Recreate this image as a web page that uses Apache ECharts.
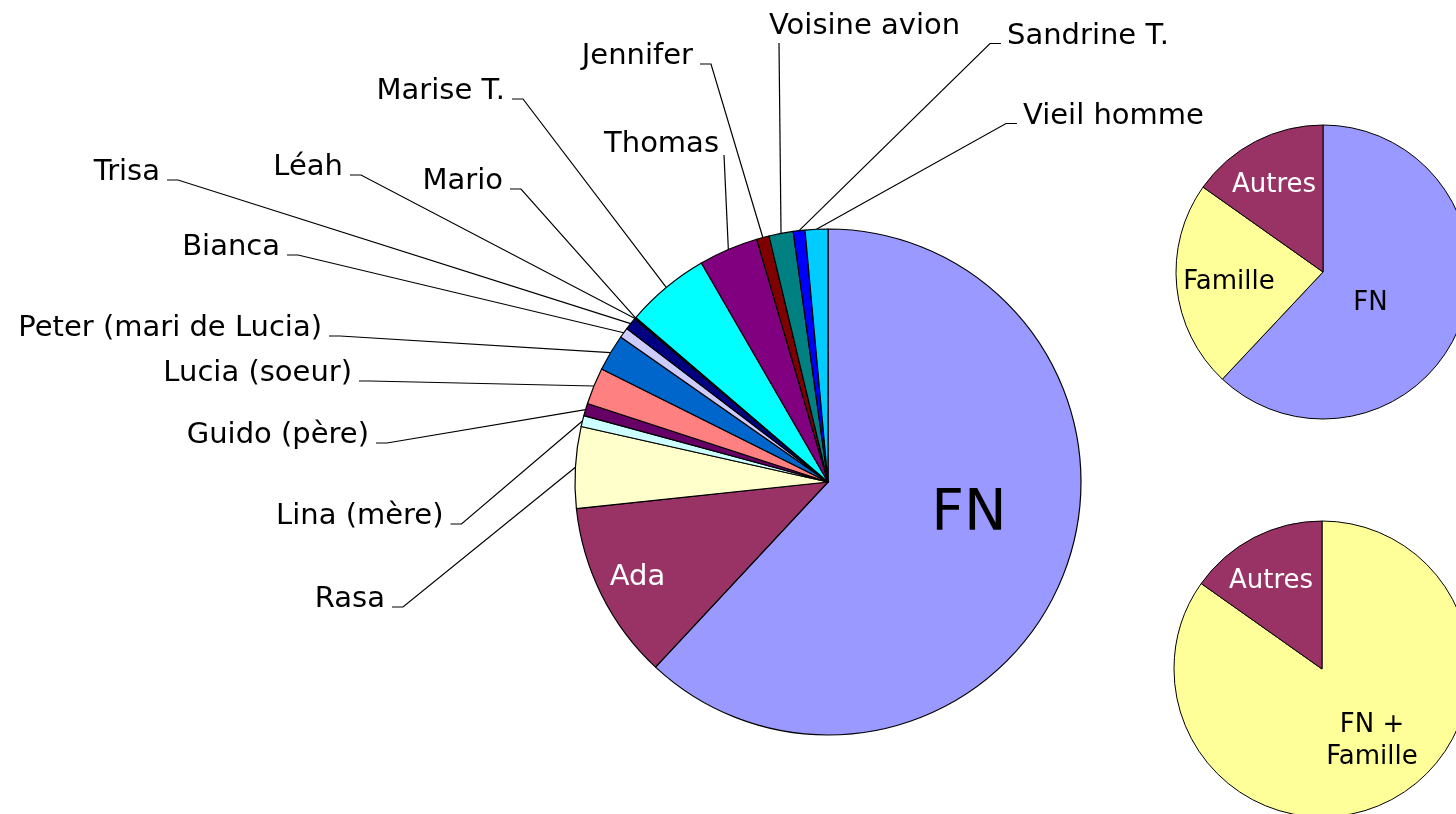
<!DOCTYPE html>
<html>
<head>
<meta charset="utf-8">
<script src="https://cdn.jsdelivr.net/npm/echarts@6/dist/echarts.min.js"></script>
<style>
  html, body { margin: 0; padding: 0; background: #fff; }
  #chart { width: 1456px; height: 814px; }
</style>
</head>
<body>
<div id="chart"></div>
<script>
// main pie, clockwise from 12 o'clock (share of time, %)
var names = ['FN', 'Ada', 'Rasa', 'Lina (mère)', 'Guido (père)', 'Lucia (soeur)',
  'Peter (mari de Lucia)', 'Bianca', 'Trisa', 'Léah', 'Mario', 'Marise T.',
  'Thomas', 'Jennifer', 'Voisine avion', 'Sandrine T.', 'Vieil homme'];
var values = [62.0, 11.4, 5.2, 0.7, 0.8, 2.35, 2.35, 0.65, 0.8, 0.05, 0.05, 5.4,
  3.8, 0.8, 1.55, 0.75, 1.45];

// small pies on the right
var groupNames = ['FN', 'Famille', 'Autres'];
var groupValues = [62.0, 22.8, 15.2];
var mergedNames = ['FN +\nFamille', 'Autres'];
var mergedValues = [84.8, 15.2];

// old excel palette
var colors = ['#9999FF', '#993366', '#FFFFCC', '#CCFFFF', '#660066', '#FF8080',
  '#0066CC', '#CCCCFF', '#000080', '#FF00FF', '#FFFF00', '#00FFFF', '#800080',
  '#800000', '#008080', '#0000FF', '#00CCFF'];

var FONT = 'DejaVu Sans';

// where each main label sits: [x, baseline, align, leader kind]
var labelSpots = [
  [969, 532, 'center'], [637.5, 586, 'center'],
  [385, 608, 'right', 'L'], [443.5, 525, 'right', 'L'], [369, 444, 'right', 'L'],
  [352, 382, 'right', 'L'], [322, 337, 'right', 'L'], [280, 256, 'right', 'L'],
  [160, 181, 'right', 'L'], [343, 176, 'right', 'L'], [503, 190, 'right', 'L'],
  [505, 100, 'right', 'L'], [719, 153, 'right', 'T'], [693, 65, 'right', 'L'],
  [769, 35, 'left', 'B'], [1007, 45, 'left', 'R'], [1023, 125, 'left', 'R']
];
// small pie labels: [x, middle]
var groupSpots = [[1370.5, 303], [1229, 282], [1274, 185]];
var mergedSpots = [[1372, 741], [1271, 581]];

function mainLayout(params) {
  var s = labelSpots[params.dataIndex];
  var size = params.dataIndex === 0 ? 57 : 29;
  var out = { x: s[0], y: s[1] - 0.3 * size, align: s[2], verticalAlign: 'middle' };
  var a = params.labelLinePoints && params.labelLinePoints[0];
  if (a && s[3]) {
    var p;
    if (s[3] === 'L') p = [[s[0] + 18, s[1] - 1], [s[0] + 7, s[1] - 1]];
    else if (s[3] === 'R') p = [[s[0] - 17, s[1] - 1.5], [s[0] - 6, s[1] - 1.5]];
    else if (s[3] === 'T') p = [[s[0] + 5, s[1] + 2], [s[0] + 5, s[1] + 2]];
    else p = [[s[0] + 10, s[1] + 8], [s[0] + 10, s[1] + 8]];
    out.labelLinePoints = [a, p[0], p[1]];
  }
  return out;
}

function spotLayout(spots) {
  return function (params) {
    var s = spots[params.dataIndex];
    return { x: s[0], y: s[1], align: 'center', verticalAlign: 'middle' };
  };
}

var chart = echarts.init(document.getElementById('chart'));

var option = {
  animation: false,
  backgroundColor: '#fff',
  series: [
    {
      type: 'pie',
      center: [828, 482],
      radius: 253,
      startAngle: 90,
      clockwise: true,
      avoidLabelOverlap: false,
      silent: true,
      itemStyle: { borderColor: '#000', borderWidth: 1.2 },
      label: {
        show: true,
        position: 'outside',
        formatter: '{b}',
        color: '#000',
        fontFamily: FONT,
        fontSize: 29
      },
      labelLine: {
        show: true,
        length: 10,
        length2: 10,
        lineStyle: { color: '#000', width: 1.2 }
      },
      labelLayout: mainLayout,
      data: names.map(function (n, i) {
        var item = { name: n, value: values[i], itemStyle: { color: colors[i] } };
        if (i === 0) {
          item.label = { position: 'inside', fontSize: 57, color: '#000' };
          item.labelLine = { show: false };
        } else if (i === 1) {
          item.label = { position: 'inside', color: '#fff' };
          item.labelLine = { show: false };
        }
        return item;
      })
    },
    {
      type: 'pie',
      center: [1323, 272],
      radius: 147,
      startAngle: 90,
      avoidLabelOverlap: false,
      silent: true,
      itemStyle: { borderColor: '#000', borderWidth: 1 },
      label: {
        show: true,
        position: 'inside',
        formatter: '{b}',
        color: '#000',
        fontFamily: FONT,
        fontSize: 26,
        lineHeight: 32
      },
      labelLine: { show: false },
      labelLayout: spotLayout(groupSpots),
      data: groupNames.map(function (n, i) {
        return {
          name: n,
          value: groupValues[i],
          itemStyle: { color: ['#9999FF', '#FFFF99', '#993366'][i] },
          label: { color: n === 'Autres' ? '#fff' : '#000' }
        };
      })
    },
    {
      type: 'pie',
      center: [1322, 669],
      radius: 148,
      startAngle: 90,
      avoidLabelOverlap: false,
      silent: true,
      itemStyle: { borderColor: '#000', borderWidth: 1 },
      label: {
        show: true,
        position: 'inside',
        formatter: '{b}',
        color: '#000',
        fontFamily: FONT,
        fontSize: 26,
        lineHeight: 32
      },
      labelLine: { show: false },
      labelLayout: spotLayout(mergedSpots),
      data: mergedNames.map(function (n, i) {
        return {
          name: n,
          value: mergedValues[i],
          itemStyle: { color: ['#FFFF99', '#993366'][i] },
          label: { color: n === 'Autres' ? '#fff' : '#000' }
        };
      })
    }
  ]
};

chart.setOption(option);
window.addEventListener('resize', function () { chart.resize(); });
</script>
</body>
</html>
